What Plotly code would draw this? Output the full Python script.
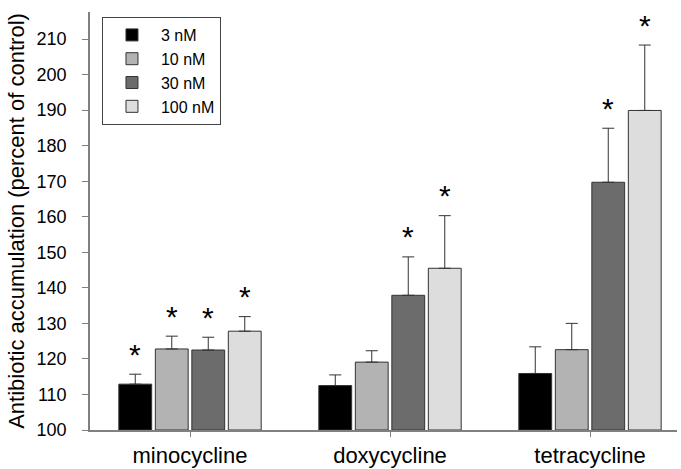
import plotly.graph_objects as go

categories = ["minocycline", "doxycycline", "tetracycline"]
series_names = ["3 nM", "10 nM", "30 nM", "100 nM"]
values = {
    "3 nM":   [112.9, 112.5, 115.9],
    "10 nM":  [122.8, 119.1, 122.6],
    "30 nM":  [122.5, 137.9, 169.7],
    "100 nM": [127.8, 145.5, 189.9],
}
error_tops = {
    "3 nM":   [115.7, 115.5, 123.4],
    "10 nM":  [126.4, 122.3, 130.0],
    "30 nM":  [126.1, 148.7, 184.9],
    "100 nM": [131.9, 160.3, 208.3],
}
significant = {
    "3 nM":   [True, False, False],
    "10 nM":  [True, False, False],
    "30 nM":  [True, True, True],
    "100 nM": [True, True, True],
}
colors = {"3 nM": "#000000", "10 nM": "#b3b3b3", "30 nM": "#6c6c6c", "100 nM": "#dddddd"}
y_ticks = [100, 110, 120, 130, 140, 150, 160, 170, 180, 190, 200, 210]

FONT = "Liberation Sans, Arial, sans-serif"

fig = go.Figure()
for s in series_names:
    err_plus = [t - v for t, v in zip(error_tops[s], values[s])]
    fig.add_trace(go.Bar(
        x=categories, y=[v - 100 for v in values[s]], base=100, name=s,
        marker=dict(color=colors[s], line=dict(color="#333333", width=1)),
        error_y=dict(type="data", symmetric=False, array=err_plus,
                     arrayminus=[0] * len(err_plus), color="#333333",
                     thickness=1, width=6),
    ))

# significance stars
n = len(series_names)
group_width = 0.73
slot = group_width / n
annotations = []
for i, s in enumerate(series_names):
    offset = -group_width / 2 + slot * (i + 0.5)
    for j, cat in enumerate(categories):
        if significant[s][j]:
            annotations.append(dict(
                x=j + offset, y=error_tops[s][j], xref="x", yref="y",
                text="*", showarrow=False, yanchor="middle", yshift=20,
                font=dict(family=FONT, size=30, color="#000000"),
            ))

fig.update_layout(
    width=681, height=469,
    margin=dict(l=90, r=4, t=12, b=39),
    paper_bgcolor="white", plot_bgcolor="white",
    barmode="group", bargap=0.27, bargroupgap=0.1,
    font=dict(family=FONT, color="#000000"),
    showlegend=True,
    legend=dict(x=0.0204, y=0.988, xanchor="left", yanchor="top",
                bordercolor="#444444", borderwidth=1, bgcolor="white",
                font=dict(family=FONT, size=16, color="#000000"),
                itemwidth=48, traceorder="normal"),
    annotations=annotations,
)
fig.update_xaxes(
    type="category", range=[-0.5, 2.435],
    showline=True, linecolor="#808080", linewidth=1.5,
    ticks="outside", ticklen=5, tickcolor="#808080",
    tickfont=dict(family=FONT, size=22, color="#000000"),
    showgrid=False, zeroline=False, automargin=False,
)
fig.update_yaxes(
    range=[100, 217.6], tickvals=y_ticks,
    showline=True, linecolor="#808080", linewidth=1.5,
    ticks="outside", ticklen=6, tickcolor="#808080",
    ticklabelstandoff=12,
    tickfont=dict(family=FONT, size=18, color="#000000"),
    showgrid=False, zeroline=False, automargin=False,
    title=dict(text="Antibiotic accumulation (percent of control)",
               font=dict(family=FONT, size=22, color="#000000"), standoff=6),
)

fig.write_html("out.html", config={"displayModeBar": False},
               post_script="document.body.style.margin='0';document.body.style.padding='0';")
